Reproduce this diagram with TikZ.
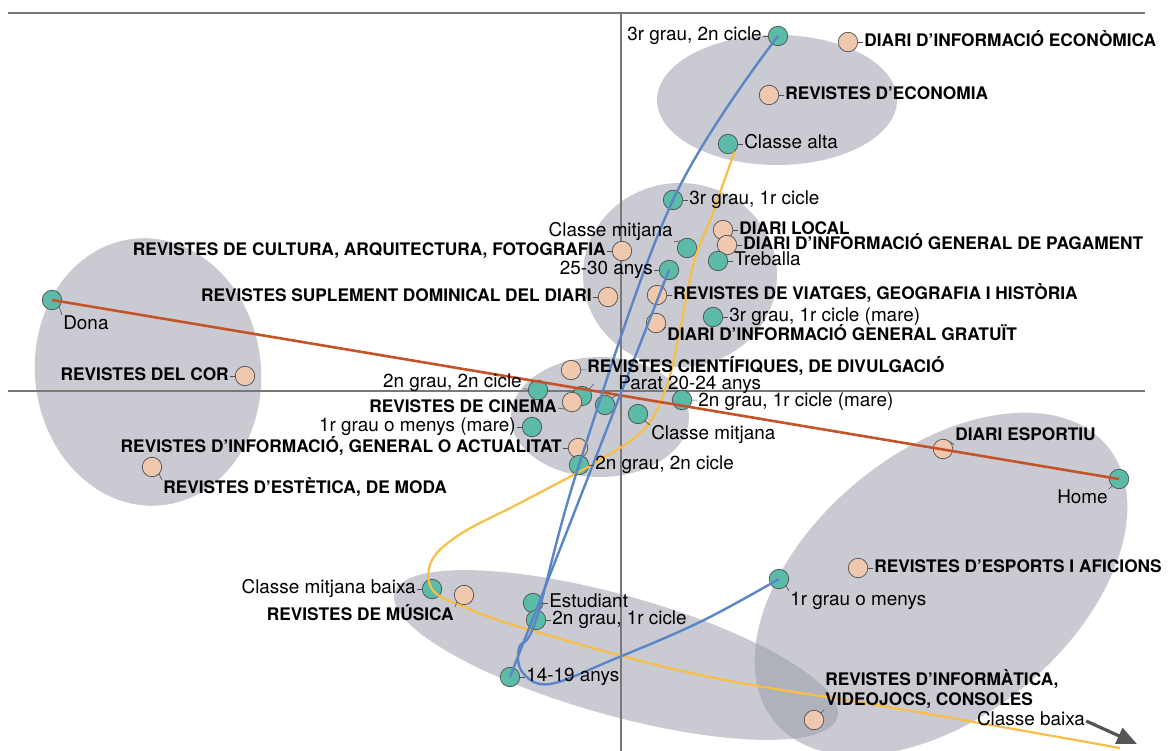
\documentclass[tikz,border=0pt]{standalone}
\usepackage{fontspec}
\usetikzlibrary{positioning,arrows.meta}
\newfontfamily\heros{TeX Gyre Heros}
\newcommand\catfont{\heros\fontsize{18.9}{20}\selectfont}
\newcommand\medfont{\heros\bfseries\fontsize{17.3}{20}\selectfont}
\definecolor{socfill}{RGB}{91,186,168}
\definecolor{medfill}{RGB}{239,200,173}
\definecolor{rim}{RGB}{80,80,80}
\definecolor{blobfill}{RGB}{150,152,166}
\definecolor{axisline}{RGB}{120,120,120}
\definecolor{sexline}{RGB}{196,83,42}
\definecolor{eduline}{RGB}{90,134,198}
\definecolor{classline}{RGB}{249,190,70}
\definecolor{arrowgray}{RGB}{85,85,85}

\begin{document}
\begin{tikzpicture}[x=1pt,y=-1pt]
    \tikzstyle{blob}=[fill=blobfill,fill opacity=0.5]
    \tikzstyle{axis}=[draw=axisline,line width=1.1pt]
    \tikzstyle{dot}=[circle,draw=rim,line width=0.7pt,minimum size=19.5pt,inner sep=0pt]
    \tikzstyle{soc}=[dot,fill=socfill]
    \tikzstyle{med}=[dot,fill=medfill]
    \tikzstyle{cat}=[font=\catfont,inner sep=1pt,text height=13.5pt,text depth=4pt]
    \tikzstyle{mtxt}=[font=\medfont,inner sep=1pt]
    \tikzstyle{mlab}=[mtxt,text height=12.5pt,text depth=3.5pt]
    \tikzstyle{leader}=[draw=rim,line width=0.6pt]
    \tikzstyle{sexpath}=[draw=sexline,line width=2.6pt]
    \tikzstyle{edupath}=[draw=eduline,line width=2.4pt]
    \tikzstyle{classpath}=[draw=classline,line width=2.2pt]
    \tikzstyle{toarrow}=[draw=arrowgray,line width=3.2pt,-{Triangle[length=20pt,width=17pt]}]
    \useasboundingbox (0,0) rectangle (1169,751);
    \fill[white] (0,0) rectangle (1169,751);

    \fill[blob] (777,100) ellipse (120 and 65);
    \fill[blob] (680,275) ellipse (97 and 92);
    \fill[blob] (600,417) ellipse (89 and 60);
    \fill[blob,rotate around={6:(148,372)}] (148,372) ellipse (113 and 134);
    \fill[blob,rotate around={-15.7:(616,655)}] (616,655) ellipse (230 and 60);
    \fill[blob,rotate around={39.7:(941,584)}] (941,584) ellipse (216 and 132);

    \draw[axis] (8,13) -- (1145,13);
    \draw[axis] (8,391) -- (1145,391);
    \draw[axis] (621,13) -- (621,751);

    \node[med] (econ) at (848,42) {};
    \node[med] (revEcon) at (769,95) {};
    \node[med] (local) at (723,230) {};
    \node[med] (pagament) at (727,245) {};
    \node[med] (cultura) at (622,251) {};
    \node[med] (dominical) at (608,297) {};
    \node[med] (viatges) at (657,295) {};
    \node[med] (gratuit) at (656,323) {};
    \node[med] (cor) at (245,376) {};
    \node[med] (cientif) at (571,370) {};
    \node[soc] (parat) at (582,396) {};
    \node[med] (cinema) at (572,402) {};
    \node[med] (actualitat) at (578,448) {};
    \node[med] (moda) at (152,467) {};
    \node[med] (esportiu) at (943,449) {};
    \node[med] (esports) at (858,568) {};
    \node[med] (musica) at (464,595) {};
    \node[med] (informatica) at (814,720) {};

    \node[soc] (grau3c2) at (778,36) {};
    \node[soc] (alta) at (728,144) {};
    \node[soc] (grau3c1) at (673,200) {};
    \node[soc] (mitjana) at (687,248) {};
    \node[soc] (treballa) at (718,261) {};
    \node[soc] (a2530) at (669,270) {};
    \node[soc] (mare3c1) at (713,317) {};
    \node[soc] (dona) at (52,300) {};
    \node[soc] (grau2c2b) at (538,390) {};
    \node[soc] (a2024) at (605,405) {};
    \node[soc] (mare2c1) at (682,400) {};
    \node[soc] (mitjanaB) at (638,414) {};
    \node[soc] (mare1) at (532,427) {};
    \node[soc] (grau2c2) at (579,465) {};
    \node[soc] (home) at (1119,479) {};
    \node[soc] (grau1) at (779,579) {};
    \node[soc] (baixaM) at (432,589) {};
    \node[soc] (estudiant) at (533,603) {};
    \node[soc] (grau2c1) at (536,620) {};
    \node[soc] (a1419) at (510,677) {};

    \coordinate (classend) at (1120,748);
    \coordinate (paratstub) at (594,384);
    \coordinate (baixatip) at (1137,744);

    \draw[classpath] plot[smooth,tension=0.6] coordinates {(alta.-50) (712,215) (694,262) (680,330) (667,385) (645,428) (600,460) (520,503) (462,533) (432,560) (baixaM.center) (462,606) (530,630) (700,675) (900,709) (classend)};
    \draw[sexpath] (dona.center) -- (home.center);
    \draw[edupath] (a1419.center) -- (a2530.center);
    \draw[edupath] plot[smooth,tension=0.6] coordinates {(grau1.center) (700,622) (612,660) (550,684) (523,673) (519,648) (grau2c1.center) (grau2c2.center) (grau3c1.center) (grau3c2.center)};

    \node[mlab,right=5pt of econ] (econl) {DIARI D’INFORMACIÓ ECONÒMICA}; \draw[leader] (econ) -- (econl);
    \node[mlab,right=5pt of revEcon] (revEconl) {REVISTES D’ECONOMIA}; \draw[leader] (revEcon) -- (revEconl);
    \node[mlab,right=5pt of local] (locall) {DIARI LOCAL}; \draw[leader] (local) -- (locall);
    \node[mlab,right=5pt of pagament] (pagamentl) {DIARI D’INFORMACIÓ GENERAL DE PAGAMENT}; \draw[leader] (pagament) -- (pagamentl);
    \node[mlab,left=5pt of cultura] (cultural) {REVISTES DE CULTURA, ARQUITECTURA, FOTOGRAFIA}; \draw[leader] (cultura) -- (cultural);
    \node[mlab,left=5pt of dominical] (dominicall) {REVISTES SUPLEMENT DOMINICAL DEL DIARI}; \draw[leader] (dominical) -- (dominicall);
    \node[mlab,right=5pt of viatges] (viatgesl) {REVISTES DE VIATGES, GEOGRAFIA I HISTÒRIA}; \draw[leader] (viatges) -- (viatgesl);
    \node[mlab,below right=-3pt and 3pt of gratuit] (gratuitl) {DIARI D’INFORMACIÓ GENERAL GRATUÏT}; \draw[leader] (gratuit.south east) -- (gratuitl.north west);
    \node[mlab,left=5pt of cor] (corl) {REVISTES DEL COR}; \draw[leader] (cor) -- (corl);
    \node[mlab,right=5pt of cientif,yshift=2pt] (cientifl) {REVISTES CIENTÍFIQUES, DE DIVULGACIÓ}; \draw[leader] (cientif) -- (cientifl);
    \node[mlab,left=4pt of cinema,yshift=-6pt] (cinemal) {REVISTES DE CINEMA}; \draw[leader] (cinema.south west) -- (cinemal.east);
    \node[mlab,left=5pt of actualitat] (actualitatl) {REVISTES D’INFORMACIÓ, GENERAL O ACTUALITAT}; \draw[leader] (actualitat) -- (actualitatl);
    \node[mlab,below right=6pt and 3pt of moda] (modal) {REVISTES D’ESTÈTICA, DE MODA}; \draw[leader] (moda.south east) -- (modal.north west);
    \node[mlab,above right=-3pt and 4pt of esportiu] (esportiul) {DIARI ESPORTIU}; \draw[leader] (esportiu.north east) -- (esportiul.south west);
    \node[mlab,right=5pt of esports] (esportsl) {REVISTES D’ESPORTS I AFICIONS}; \draw[leader] (esports) -- (esportsl);
    \node[mlab,below left=5pt and 2pt of musica] (musical) {REVISTES DE MÚSICA}; \draw[leader] (musica.south west) -- (musical.north east);
    \node[mtxt,align=left,above right=3pt and 3pt of informatica] (informatical) {REVISTES D’INFORMÀTICA,\\VIDEOJOCS, CONSOLES}; \draw[leader] (informatica.north east) -- (informatical.south west);

    \node[cat,left=5pt of grau3c2] (grau3c2l) {3r grau, 2n cicle}; \draw[leader] (grau3c2) -- (grau3c2l);
    \node[cat,right=5pt of alta] (altal) {Classe alta}; \draw[leader] (alta) -- (altal);
    \node[cat,right=5pt of grau3c1] (grau3c1l) {3r grau, 1r cicle}; \draw[leader] (grau3c1) -- (grau3c1l);
    \node[cat,above left=-1pt and 6pt of mitjana] (mitjanal) {Classe mitjana}; \draw[leader] (mitjana.north west) -- (mitjanal.south east);
    \node[cat,right=5pt of treballa] (treballal) {Treballa}; \draw[leader] (treballa) -- (treballal);
    \node[cat,left=5pt of a2530] (a2530l) {25-30 anys}; \draw[leader] (a2530) -- (a2530l);
    \node[cat,right=5pt of mare3c1] (mare3c1l) {3r grau, 1r cicle (mare)}; \draw[leader] (mare3c1) -- (mare3c1l);
    \node[cat,below right=8pt and 3pt of dona] (donal) {Dona}; \draw[leader] (dona.south east) -- (donal.north west);
    \node[cat,left=5pt of grau2c2b,yshift=7pt] (grau2c2bl) {2n grau, 2n cicle}; \draw[leader] (grau2c2b) -- (grau2c2bl);
    \draw[leader] (parat.north east) -- (paratstub);
    \node[cat,above right=3pt and 5pt of a2024] (a2024l) {Parat 20-24 anys}; \draw[leader] (a2024.north east) -- (a2024l.south west);
    \node[cat,right=5pt of mare2c1,yshift=-1.5pt] (mare2c1l) {2n grau, 1r cicle (mare)}; \draw[leader] (mare2c1) -- (mare2c1l);
    \node[cat,below right=4pt and 5pt of mitjanaB] (mitjanaBl) {Classe mitjana}; \draw[leader] (mitjanaB.south east) -- (mitjanaBl.north west);
    \node[cat,left=5pt of mare1] (mare1l) {1r grau o menys (mare)}; \draw[leader] (mare1) -- (mare1l);
    \node[cat,right=5pt of grau2c2] (grau2c2l) {2n grau, 2n cicle}; \draw[leader] (grau2c2) -- (grau2c2l);
    \node[cat,below left=3pt and 3pt of home] (homel) {Home}; \draw[leader] (home.south west) -- (homel.north east);
    \node[cat,below right=5pt and 3pt of grau1] (grau1l) {1r grau o menys}; \draw[leader] (grau1.south east) -- (grau1l.north west);
    \node[cat,left=5pt of baixaM] (baixaMl) {Classe mitjana baixa}; \draw[leader] (baixaM) -- (baixaMl);
    \node[cat,right=5pt of estudiant] (estudiantl) {Estudiant}; \draw[leader] (estudiant) -- (estudiantl);
    \node[cat,right=5pt of grau2c1] (grau2c1l) {2n grau, 1r cicle}; \draw[leader] (grau2c1) -- (grau2c1l);
    \node[cat,right=5pt of a1419] (a1419l) {14-19 anys}; \draw[leader] (a1419) -- (a1419l);

    \node[cat] (baixa) at (1031,721) {Classe baixa};
    \draw[toarrow] (baixa.east) -- (baixatip);
\end{tikzpicture}
\end{document}
